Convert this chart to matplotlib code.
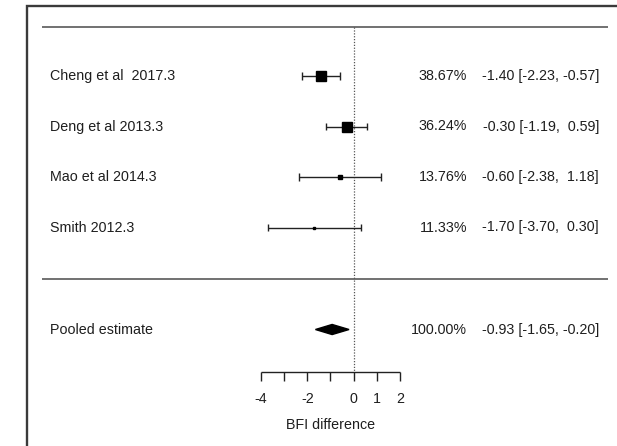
import numpy as np
import matplotlib.pyplot as plt
from matplotlib.patches import Polygon, Rectangle

plt.rcParams['font.family'] = ['Liberation Sans', 'DejaVu Sans']

# study data
studies = ['Cheng et al  2017.3', 'Deng et al 2013.3', 'Mao et al 2014.3', 'Smith 2012.3']
weights = [38.67, 36.24, 13.76, 11.33]
estimates = [-1.40, -0.30, -0.60, -1.70]
lower = [-2.23, -1.19, -2.38, -3.70]
upper = [-0.57, 0.59, 1.18, 0.30]

pooled_label = 'Pooled estimate'
pooled_weight = 100.00
pooled_est = -0.93
pooled_lo = -1.65
pooled_hi = -0.20

tick_pos = [-4, -3, -2, -1, 0, 1, 2]
tick_labels = ['-4', '', '-2', '', '0', '1', '2']
xlabel = 'BFI difference'

fs = 10.3
tc = '#1e1e1e'

fig = plt.figure(figsize=(6.17, 4.46), dpi=100)
ax = fig.add_axes([0, 0, 1, 1])
# x scale: -4 -> 261px, 2 -> 400px
ppu = (400 - 261) / 6.0
ax.set_xlim(-4 - 261 / ppu, 2 + (617 - 400) / ppu)
# y scale: row 1 at 76px, 50.5px per row
rpx = 50.5
ax.set_ylim(1 + (446 - 76) / rpx, 1 - 76 / rpx)
ax.axis('off')

# outer frame
fig.patches.append(Rectangle((26.5 / 617, -0.1), 1.2, 1 - 5.5 / 446 + 0.1, transform=fig.transFigure,
                             fill=False, edgecolor='#3a3a3a', linewidth=1.7))

xl = ax.get_xlim()[0]
def px2x(p):
    return xl + p / ppu

rows = np.arange(1, len(studies) + 1)
top_line = 0.03
mid_line = 5.02
pooled_row = 6.02
axis_row = 6.87

ax.hlines([top_line], px2x(42), px2x(608), color='#666666', linewidth=1.3)
ax.hlines([mid_line], px2x(42), px2x(608), color='#666666', linewidth=1.3)

# zero line
ax.vlines(0, top_line, axis_row, color='#555555', linestyle=(0, (1, 1.3)), linewidth=0.9)

for r, name, w, est, lo, hi in zip(rows, studies, weights, estimates, lower, upper):
    ax.text(px2x(50), r, name, ha='left', va='center', fontsize=fs, color=tc)
    ax.hlines(r, lo, hi, color='#222222', linewidth=1.0)
    ax.vlines([lo, hi], r - 0.075, r + 0.075, color='#222222', linewidth=1.0)
    ax.plot(est, r, marker='s', color='black', markersize=w * 0.19, linestyle='none')
    ax.text(px2x(467), r, '%.2f%%' % w, ha='right', va='center', fontsize=fs, color=tc)
    ax.text(px2x(599), r, '%.2f [%.2f, %5.2f]' % (est, lo, hi), ha='right', va='center',
            fontsize=fs, color=tc)

# pooled
ax.text(px2x(50), pooled_row, pooled_label, ha='left', va='center', fontsize=fs, color=tc)
h = 0.1
ax.add_patch(Polygon([[pooled_lo, pooled_row], [pooled_est, pooled_row - h],
                      [pooled_hi, pooled_row], [pooled_est, pooled_row + h]],
                     closed=True, color='black'))
ax.text(px2x(467), pooled_row, '%.2f%%' % pooled_weight, ha='right', va='center', fontsize=fs,
        color=tc)
ax.text(px2x(599), pooled_row, '%.2f [%.2f, %.2f]' % (pooled_est, pooled_lo, pooled_hi),
        ha='right', va='center', fontsize=fs, color=tc)

# x axis
ax.hlines(axis_row, tick_pos[0], tick_pos[-1], color='#222222', linewidth=1.0)
ax.vlines(tick_pos, axis_row, axis_row + 0.17, color='#222222', linewidth=1.0)
for t, lab in zip(tick_pos, tick_labels):
    ax.text(t, axis_row + 0.53, lab, ha='center', va='center', fontsize=fs, color=tc)
ax.text(np.mean([tick_pos[0], tick_pos[-1]]), axis_row + 1.05, xlabel, ha='center', va='center',
        fontsize=fs, color=tc)

fig.savefig('out.png', dpi=100)
